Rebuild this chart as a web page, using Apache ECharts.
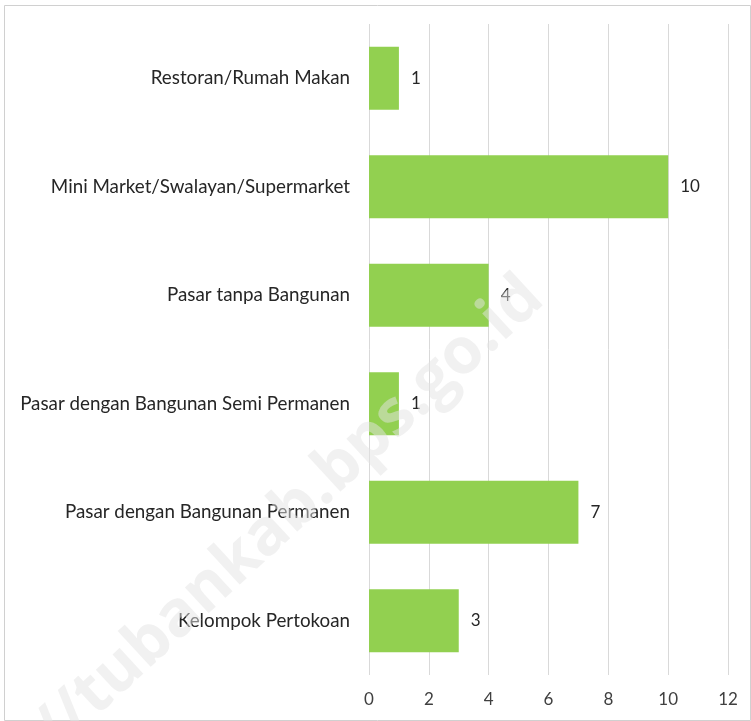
<!DOCTYPE html>
<html>
<head>
<meta charset="utf-8">
<script src="https://cdn.jsdelivr.net/npm/echarts@6/dist/echarts.min.js"></script>
<style>
  html, body { margin: 0; padding: 0; background: #fff; }
  #chart { width: 751px; height: 721px; }
</style>
</head>
<body>
<div id="chart"></div>
<script>
// data
const categories = [
  'Restoran/Rumah Makan',
  'Mini Market/Swalayan/Supermarket',
  'Pasar tanpa Bangunan',
  'Pasar dengan Bangunan Semi Permanen',
  'Pasar dengan Bangunan Permanen',
  'Kelompok Pertokoan'
];
const values = [1, 10, 4, 1, 7, 3];
const xTicks = [0, 2, 4, 6, 8, 10, 12];

const chart = echarts.init(document.getElementById('chart'));

const option = {
  backgroundColor: '#fff',
  textStyle: { fontFamily: 'Lato' },
  grid: { left: 369, right: 23, top: 24, bottom: 46 },
  xAxis: {
    type: 'value',
    min: xTicks[0],
    max: xTicks[xTicks.length - 1],
    interval: 2,
    axisLine: { show: false },
    axisTick: { show: false },
    axisLabel: { fontSize: 17, color: '#404040', margin: 16 },
    splitLine: { lineStyle: { color: '#d9d9d9', width: 1 } }
  },
  yAxis: {
    type: 'category',
    inverse: true,
    data: categories,
    axisLine: { show: false },
    axisTick: { show: false },
    axisLabel: { fontSize: 18.8, color: '#262626', margin: 19 }
  },
  series: [{
    type: 'bar',
    data: values,
    barWidth: '58%',
    itemStyle: { color: '#92d050' },
    label: {
      show: true,
      position: 'right',
      distance: 12,
      fontSize: 17,
      color: '#262626'
    }
  }],
  graphic: [
    {
      type: 'rect',
      left: 2, top: 3,
      shape: { width: 746, height: 715 },
      style: { fill: 'none', stroke: '#d0d0d0', lineWidth: 1 },
      z: 100
    },
    {
      type: 'text',
      x: 220, y: 578,
      rotation: 0.745,
      style: {
        text: 'https://tubankab.bps.go.id',
        fontSize: 64,
        fontWeight: 'bold',
        fontFamily: 'Open Sans',
        fill: 'rgba(228,228,228,0.5)',
        align: 'center',
        verticalAlign: 'middle'
      },
      z: 100
    }
  ]
};

chart.setOption(option);
</script>
</body>
</html>
